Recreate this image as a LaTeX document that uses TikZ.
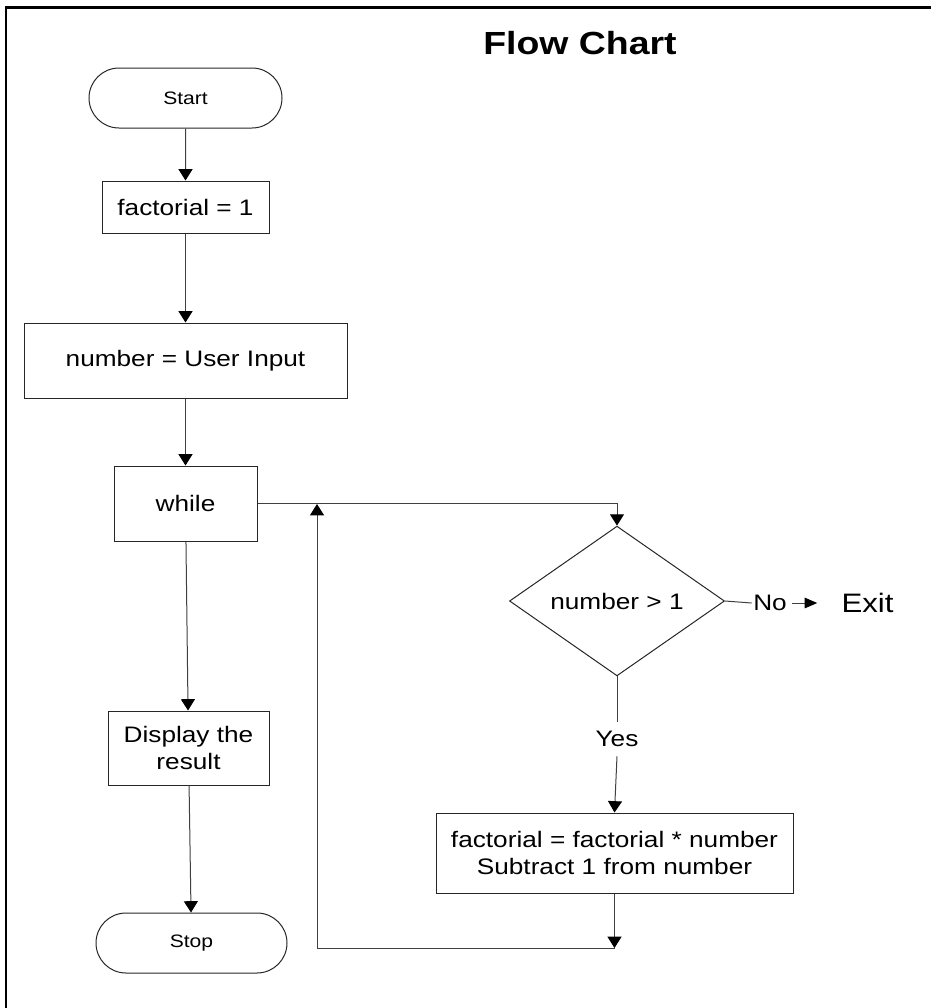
\documentclass[tikz,border=0pt]{standalone}
\usepackage{fontspec}
\setmainfont[FakeStretch=1.17]{Liberation Sans}
\usetikzlibrary{shapes.geometric,shapes.misc,arrows.meta}
\begin{document}
\begin{tikzpicture}[x=0.75pt,y=-0.75pt,
  box/.style={draw=black!85,line width=0.75pt,inner sep=0pt,align=center,
    font=\fontsize{16.8}{20.25}\selectfont},
  term/.style={rounded rectangle,draw=black!85,line width=0.75pt,inner sep=0pt,
    font=\fontsize{13.5}{16}\selectfont},
  decision/.style={diamond,draw=black!85,line width=0.75pt,inner sep=0pt,
    font=\fontsize{16.8}{20.25}\selectfont},
  conn/.style={draw=black!75,line width=0.75pt},
  arr/.style={conn,-{Triangle[width=10.5pt,length=8.5pt,color=black]}},
  lbl/.style={inner sep=0pt,font=\fontsize{16.8}{20.25}\selectfont}
]
\useasboundingbox (0,0) rectangle (931,1008);
% frame
\draw[line width=2pt] (6,1008) -- (6,7.3) -- (931,7.3);
% title
\node[font=\fontsize{24}{28}\selectfont\bfseries] (title) at (580,43) {Flow Chart};
% nodes
\node[term,minimum width=144.75pt,minimum height=45pt] (start) at (185.5,98) {Start};
\node[box,minimum width=125.25pt,minimum height=39pt] (fact) at (185.5,207) {factorial = 1};
\node[box,minimum width=242.25pt,minimum height=56.25pt] (input) at (185.5,360.5) {number = User Input};
\node[box,minimum width=107.25pt,minimum height=56.25pt] (while) at (185.5,503.5) {while};
\node[box,minimum width=120.75pt,minimum height=55.5pt] (display) at (188.5,748) {Display the\\result};
\node[term,minimum width=143.25pt,minimum height=45pt] (stop) at (191.5,943) {Stop};
\node[decision,minimum width=161.25pt,minimum height=99.75pt] (dec) at (617,601) {number > 1};
\node[box,minimum width=267.75pt,minimum height=60pt] (proc) at (614.5,853) {factorial = factorial * number\\Subtract 1 from number};
\node[lbl,minimum height=25.5pt] (yes) at (617,739) {Yes};
\node[lbl,inner xsep=1pt] (no) at (770,603) {No};
\node[inner sep=0pt,font=\fontsize{20}{23}\selectfont] (exit) at (867.5,603) {Exit};
\coordinate (lc) at (614.5,948);
\coordinate (ll) at (317,948);
\coordinate (lt) at (317,504);
% connectors
\draw[arr] (start) -- (fact);
\draw[arr] (fact) -- (input);
\draw[arr] (input) -- (while);
\draw[arr] (while) -- (display);
\draw[arr] (display) -- (stop);
\draw[arr] (while.east) -| (dec.north);
\draw[conn] (dec.south) -- (yes.north);
\draw[arr] (yes.south) -- (proc.north);
\draw[arr] (proc.south) -- (lc);
\draw[arr] (lc) -- (ll) -- (lt);
\draw[conn] (dec.east) -- (no.west);
\draw[conn,-{Triangle[width=8pt,length=9.5pt,color=black]},shorten <=3pt,shorten >=18pt] (no.east) -- (exit.west);
\end{tikzpicture}
\end{document}
